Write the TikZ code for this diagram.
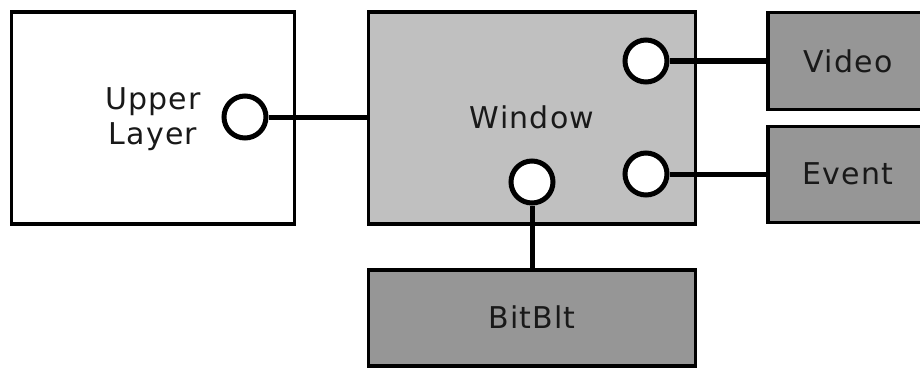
\documentclass[tikz,border=0pt]{standalone}
\usepackage{fontspec}
\setmainfont[LetterSpace=4]{DejaVu Sans}
\definecolor{winfill}{HTML}{C0C0C0}
\definecolor{devfill}{HTML}{969696}
\begin{document}
\begin{tikzpicture}[x=1pt,y=-1pt,
  label text/.style={font=\fontsize{30}{35}\selectfont, text=black!90},
  box/.style={draw=black, line width=3.2pt, inner sep=0pt, rectangle},
  port/.style={draw=black, fill=white, line width=5pt, circle, inner sep=0pt, minimum size=42pt},
  wire/.style={draw=black, line width=5pt}]
  \useasboundingbox (0,0) rectangle (920,369);
  \clip (0,0) rectangle (920,369);

  % module boxes
  \node[box, fill=white, minimum width=283pt, minimum height=212pt] (upper) at (153,118) {};
  \node[box, fill=winfill, minimum width=327pt, minimum height=212pt] (win) at (532,118) {};
  \node[box, fill=devfill, minimum width=162pt, minimum height=97pt] (video) at (849,61) {};
  \node[box, fill=devfill, minimum width=162pt, minimum height=96pt] (event) at (849,174.5) {};
  \node[box, fill=devfill, minimum width=327pt, minimum height=96pt] (bitblt) at (532,318) {};

  % labels
  \node[label text, align=center] (upperlbl) at (153,119) {Upper\\Layer};
  \node[label text] (winlbl) at (532,117) {Window};
  \node[label text] (videolbl) at (848,61) {Video};
  \node[label text] (eventlbl) at (848,174) {Event};
  \node[label text] (bitbltlbl) at (532,317) {BitBlt};

  % interface ports
  \node[port] (upport) at (245,117) {};
  \node[port] (vport) at (646,61) {};
  \node[port] (eport) at (646,174) {};
  \node[port] (bport) at (532,182) {};

  % connections
  \draw[wire] (upport) -- (upport -| win.west);
  \draw[wire] (vport) -- (vport -| video.west);
  \draw[wire] (eport) -- (eport -| event.west);
  \draw[wire] (bport) -- (bport |- bitblt.north);
\end{tikzpicture}
\end{document}
